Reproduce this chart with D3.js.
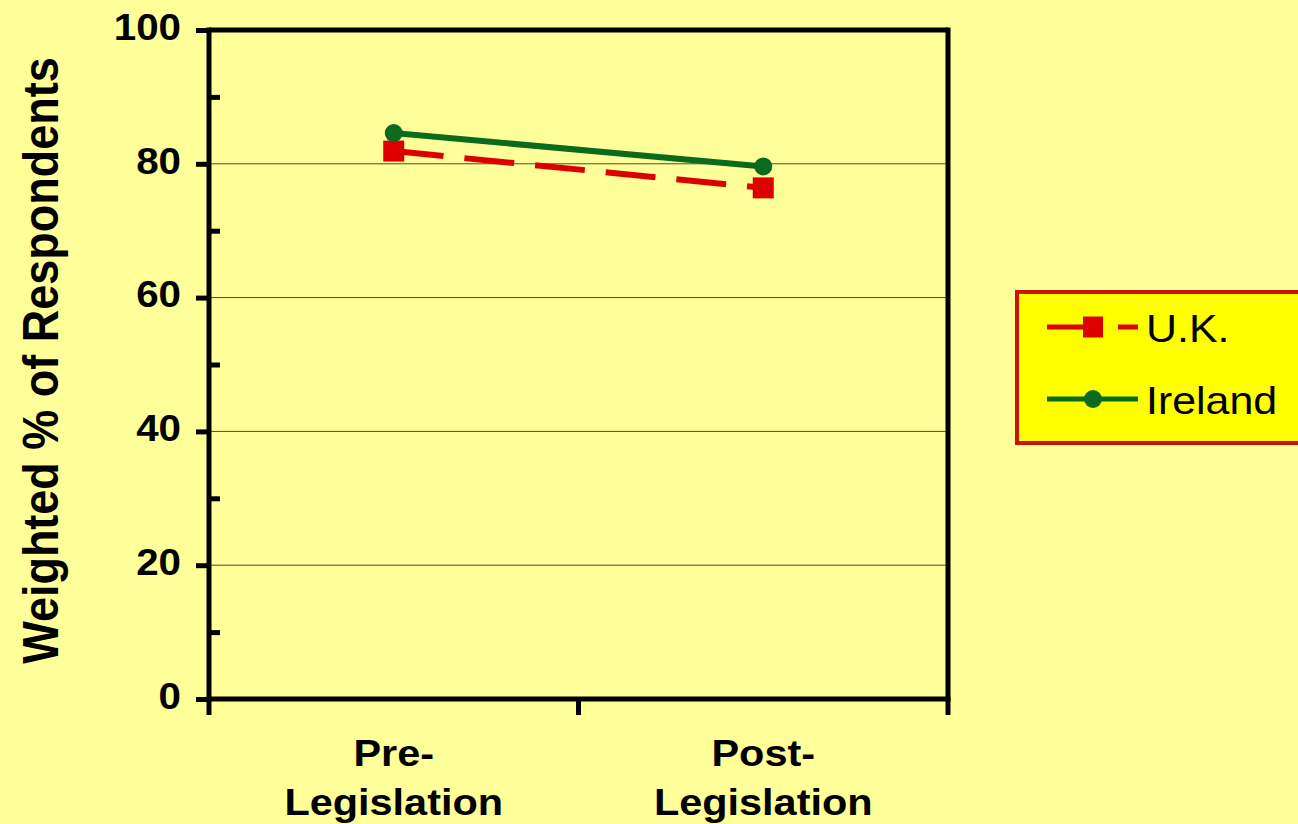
<!DOCTYPE html>
<html>
<head>
<meta charset="utf-8">
<script src="https://cdn.jsdelivr.net/npm/d3@7"></script>
<style>
  html, body { margin: 0; padding: 0; background: #FFFF99; }
  svg { display: block; }
  text { font-family: "Liberation Sans", Arial, Helvetica, sans-serif; fill: #000; }
</style>
</head>
<body>
<svg id="chart" width="1298" height="824"></svg>
<script>
// Survey periods and weighted shares (%)
const periods = ["Pre-Legislation", "Post-Legislation"];
const periodLines = [["Pre-", "Legislation"], ["Post-", "Legislation"]];
const ukValues = [81.9, 76.4];
const irelandValues = [84.6, 79.6];
const majorTicks = [0, 20, 40, 60, 80, 100];
const minorTicks = [10, 30, 50, 70, 90];
const gridTicks = [20, 40, 60, 80];
const seriesNames = ["U.K.", "Ireland"];

const svg = d3.select("#chart");
const W = 1298, H = 824;
const plot = { left: 209, right: 948, top: 30, bottom: 699 };
const WIDEN = 1.12; // horizontal widening applied to all lettering

// Stretch a text node (or tspan) horizontally around its anchor
function widen(sel, k = WIDEN) {
  sel.each(function() {
    const len = this.getComputedTextLength();
    d3.select(this).attr("textLength", len * k).attr("lengthAdjust", "spacingAndGlyphs");
  });
}

svg.append("rect").attr("width", W).attr("height", H).attr("fill", "#FFFF99");

const y = d3.scaleLinear().domain([0, 100]).range([plot.bottom, plot.top]);
const xBand = d3.scaleBand().domain(periods).range([plot.left, plot.right]).padding(0);
const x = d3.scalePoint().domain(periods).range([plot.left, plot.right]).padding(0.5);

// Horizontal gridlines
svg.append("g")
  .selectAll("line")
  .data(gridTicks)
  .join("line")
  .attr("x1", plot.left).attr("x2", plot.right)
  .attr("y1", d => y(d)).attr("y2", d => y(d))
  .attr("stroke", "#4a4a3a").attr("stroke-width", 1);

// Frame top / right
svg.append("line")
  .attr("x1", plot.left).attr("x2", plot.right)
  .attr("y1", plot.top).attr("y2", plot.top)
  .attr("stroke", "#000").attr("stroke-width", 5);
svg.append("line")
  .attr("x1", plot.right).attr("x2", plot.right)
  .attr("y1", plot.top - 2.5).attr("y2", plot.bottom)
  .attr("stroke", "#000").attr("stroke-width", 5);

// Y axis with major ticks outside
const yAxis = svg.append("g")
  .attr("transform", `translate(${plot.left},0)`)
  .call(d3.axisLeft(y).tickValues(majorTicks).tickSize(13).tickSizeOuter(0).tickPadding(15));
yAxis.select(".domain").attr("stroke-width", 5).attr("d", `M0,${plot.top - 2.5}V${plot.bottom + 2.5}`);
yAxis.selectAll(".tick line").attr("stroke-width", 5);
yAxis.selectAll(".tick text")
  .attr("font-size", 36).attr("font-weight", "bold")
  .attr("font-family", "Liberation Sans, Arial, sans-serif")
  .attr("dy", "0.26em")
  .call(widen);

// Minor ticks inside the plot
const yMinor = svg.append("g")
  .attr("transform", `translate(${plot.left},0)`)
  .call(d3.axisRight(y).tickValues(minorTicks).tickSize(11).tickFormat(""));
yMinor.select(".domain").remove();
yMinor.selectAll(".tick line").attr("stroke-width", 5);

// X axis with boundary ticks
const bounds = [plot.left, ...periods.slice(1).map(p => xBand(p)), plot.right];
const xAxis = svg.append("g");
xAxis.append("line")
  .attr("x1", plot.left - 2.5).attr("x2", plot.right + 2.5)
  .attr("y1", plot.bottom).attr("y2", plot.bottom)
  .attr("stroke", "#000").attr("stroke-width", 5);
xAxis.selectAll(".xtick")
  .data(bounds)
  .join("line")
  .attr("class", "xtick")
  .attr("x1", d => d).attr("x2", d => d)
  .attr("y1", plot.bottom).attr("y2", plot.bottom + 16)
  .attr("stroke", "#000").attr("stroke-width", 5);

// Category labels (two lines each)
const xl = svg.append("g").selectAll("text")
  .data(periods)
  .join("text")
  .attr("x", d => x(d))
  .attr("y", 766)
  .attr("text-anchor", "middle")
  .attr("font-size", 37)
  .attr("font-weight", "bold");
xl.each(function(d, i) {
  const t = d3.select(this);
  periodLines[i].forEach((s, k) => {
    t.append("tspan").attr("x", x(d)).attr("dy", k === 0 ? 0 : 49).text(s);
  });
});
xl.selectAll("tspan").call(widen);

// Y title
svg.append("text")
  .attr("transform", `translate(58,${(plot.top + plot.bottom) / 2 - 4}) scale(${WIDEN},1) rotate(-90)`)
  .attr("text-anchor", "middle")
  .attr("font-size", 45)
  .attr("font-weight", "bold")
  .text("Weighted % of Respondents");

// Series
const red = "#DD0000", green = "#0A6B1E";
const line = d3.line().x((d, i) => x(periods[i])).y(d => y(d));

svg.append("path")
  .datum(ukValues)
  .attr("d", line)
  .attr("fill", "none")
  .attr("stroke", red)
  .attr("stroke-width", 6)
  .attr("stroke-dasharray", "50,21");

svg.append("path")
  .datum(irelandValues)
  .attr("d", line)
  .attr("fill", "none")
  .attr("stroke", green)
  .attr("stroke-width", 6);

const sq = 21;
svg.append("g").selectAll("rect")
  .data(ukValues)
  .join("rect")
  .attr("x", (d, i) => x(periods[i]) - sq / 2)
  .attr("y", d => y(d) - sq / 2)
  .attr("width", sq).attr("height", sq)
  .attr("fill", red);

svg.append("g").selectAll("circle")
  .data(irelandValues)
  .join("circle")
  .attr("cx", (d, i) => x(periods[i]))
  .attr("cy", d => y(d))
  .attr("r", 9)
  .attr("fill", green);

// Legend
const lg = svg.append("g");
lg.append("rect")
  .attr("x", 1017).attr("y", 292)
  .attr("width", 300).attr("height", 151)
  .attr("fill", "#FFFF00")
  .attr("stroke", "#C81400").attr("stroke-width", 4);

const ly = [327, 399];
// U.K. entry
lg.append("line")
  .attr("x1", 1047).attr("x2", 1138)
  .attr("y1", ly[0]).attr("y2", ly[0])
  .attr("stroke", red).attr("stroke-width", 5)
  .attr("stroke-dasharray", "56,15");
lg.append("rect")
  .attr("x", 1083).attr("y", ly[0] - 10.5)
  .attr("width", 20).attr("height", 21)
  .attr("fill", red);
// Ireland entry
lg.append("line")
  .attr("x1", 1047).attr("x2", 1138)
  .attr("y1", ly[1]).attr("y2", ly[1])
  .attr("stroke", green).attr("stroke-width", 5);
lg.append("circle")
  .attr("cx", 1093).attr("cy", ly[1]).attr("r", 9)
  .attr("fill", green);

lg.selectAll("text.leg")
  .data(seriesNames)
  .join("text")
  .attr("class", "leg")
  .attr("x", 1146)
  .attr("y", (d, i) => ly[i] + 15)
  .attr("font-size", 39)
  .text(d => d)
  .call(widen, 1.1);
</script>
</body>
</html>
